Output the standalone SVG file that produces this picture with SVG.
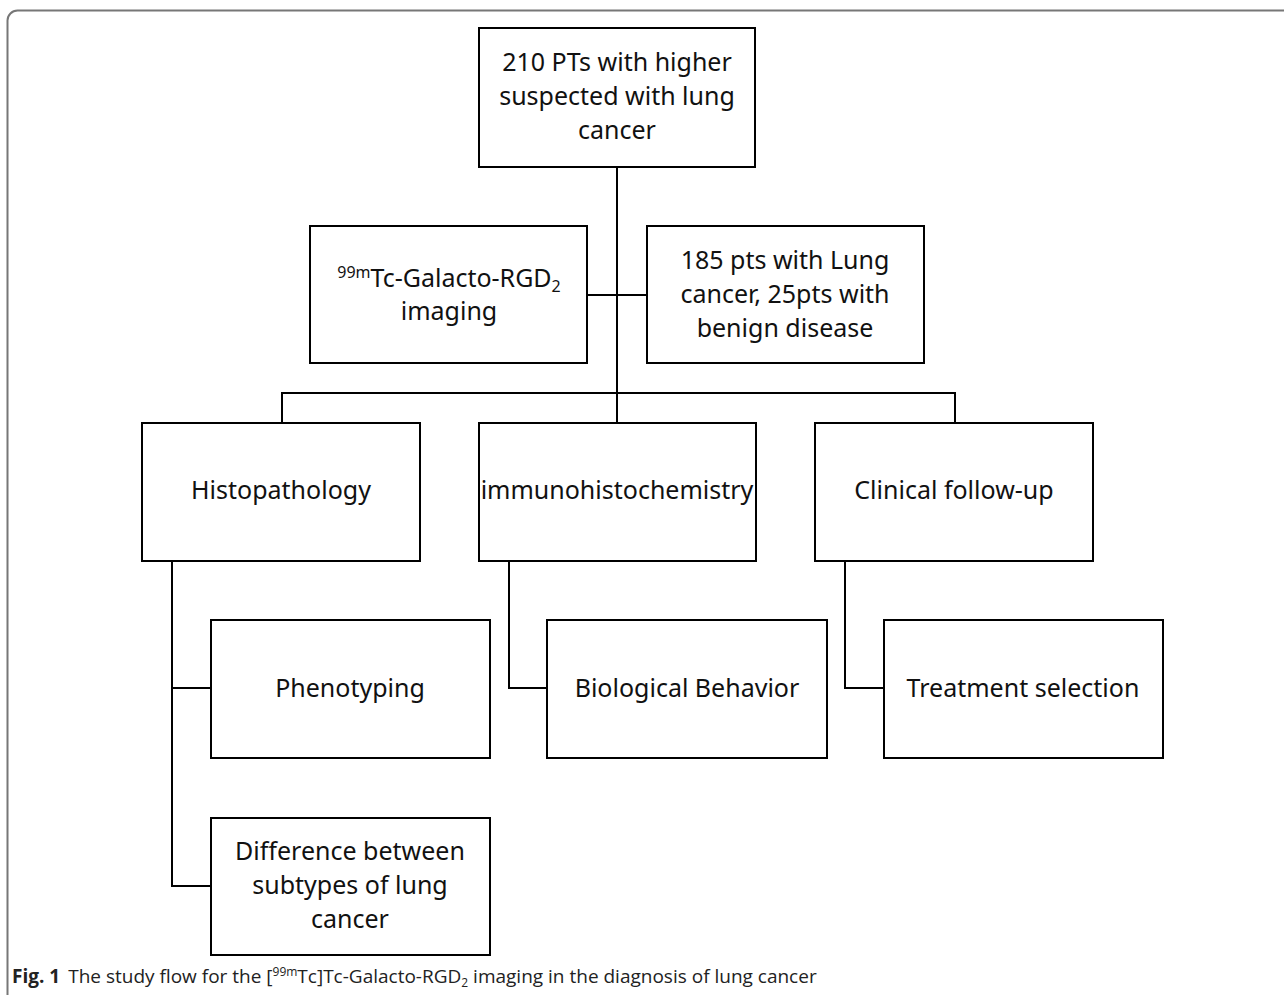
<svg xmlns="http://www.w3.org/2000/svg" width="1284" height="995" viewBox="0 0 1284 995">
<style>
.box{fill:#fff;stroke:#000;stroke-width:2}
.t{font-family:"Noto Sans","Open Sans",sans-serif;font-size:25px;fill:#111;text-anchor:middle}
.c{fill:none;stroke:#000;stroke-width:2}
.cap{font-family:"Open Sans","Noto Sans",sans-serif;font-size:19px;fill:#222}
</style>
<rect width="1284" height="995" fill="#fff"/>
<rect x="7.5" y="10.5" width="1320" height="1020" rx="10" fill="none" stroke="#777" stroke-width="2"/>
<g id="connectors">
<path class="c" d="M617 167 V393 M587 295 H647 M282 423 V393 H955 V423 M617 393 V423"/>
<path class="c" d="M172 561 V886 H211 M172 688 H211"/>
<path class="c" d="M509 561 V688 H547"/>
<path class="c" d="M845 561 V688 H884"/>
</g>
<g id="n1"><rect class="box" x="479" y="28" width="276" height="139"/>
<text class="t" x="617" y="71">210 PTs with higher</text>
<text class="t" x="617" y="105">suspected with lung</text>
<text class="t" x="617" y="139">cancer</text></g>
<g id="n2"><rect class="box" x="310" y="226" width="277" height="137"/>
<text class="t" x="449" y="287"><tspan font-size="16" dy="-9">99m</tspan><tspan dy="9">Tc-Galacto-RGD</tspan><tspan font-size="16" dy="5">2</tspan></text>
<text class="t" x="449" y="320">imaging</text></g>
<g id="n3"><rect class="box" x="647" y="226" width="277" height="137"/>
<text class="t" x="785" y="269">185 pts with Lung</text>
<text class="t" x="785" y="303">cancer, 25pts with</text>
<text class="t" x="785" y="337">benign disease</text></g>
<g id="n4"><rect class="box" x="142" y="423" width="278" height="138"/>
<text class="t" x="281" y="499">Histopathology</text></g>
<g id="n5"><rect class="box" x="479" y="423" width="277" height="138"/>
<text class="t" x="617" y="499">immunohistochemistry</text></g>
<g id="n6"><rect class="box" x="815" y="423" width="278" height="138"/>
<text class="t" x="954" y="499">Clinical follow-up</text></g>
<g id="n7"><rect class="box" x="211" y="620" width="279" height="138"/>
<text class="t" x="350" y="697">Phenotyping</text></g>
<g id="n8"><rect class="box" x="547" y="620" width="280" height="138"/>
<text class="t" x="687" y="697">Biological Behavior</text></g>
<g id="n9"><rect class="box" x="884" y="620" width="279" height="138"/>
<text class="t" x="1023" y="697">Treatment selection</text></g>
<g id="n10"><rect class="box" x="211" y="818" width="279" height="137"/>
<text class="t" x="350" y="860">Difference between</text>
<text class="t" x="350" y="894">subtypes of lung</text>
<text class="t" x="350" y="928">cancer</text></g>
<text class="cap" x="12" y="983"><tspan font-weight="bold">Fig. 1</tspan><tspan dx="8">The study flow for the [</tspan><tspan font-size="12" dy="-7">99m</tspan><tspan dy="7">Tc]Tc-Galacto-RGD</tspan><tspan font-size="12" dy="4">2</tspan><tspan dy="-4"> imaging in the diagnosis of lung cancer</tspan></text>
</svg>
